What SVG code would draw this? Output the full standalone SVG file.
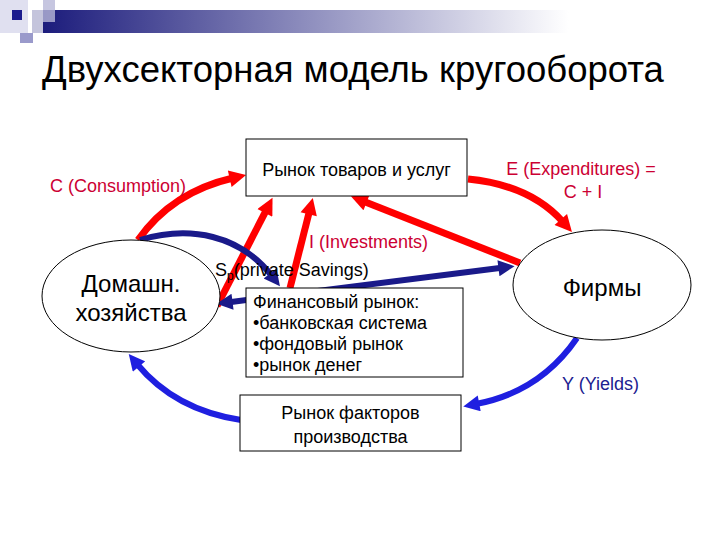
<svg xmlns="http://www.w3.org/2000/svg" width="720" height="540" viewBox="0 0 720 540">
<style>
.t{font-family:"Liberation Sans",Arial,sans-serif;fill:#000}
.lab{font-family:"Liberation Sans",Arial,sans-serif;font-size:18px}
.red{fill:#cc0033}
.box{fill:#fff;stroke:#000;stroke-width:1}
.ell{fill:#fff;stroke:#000;stroke-width:1}
.r{fill:none;stroke:#ff0000;stroke-width:7}
.n{fill:none;stroke:#1a1a8a;stroke-width:6}
.b{fill:none;stroke:#1f1fe0;stroke-width:6}
</style>
<defs>
<linearGradient id="bar" x1="0" y1="0" x2="1" y2="0">
<stop offset="0" stop-color="#1c1c7c"/>
<stop offset="0.8" stop-color="#ffffff"/>
<stop offset="1" stop-color="#ffffff"/>
</linearGradient>
<marker id="mr" viewBox="0 0 10 10" refX="2" refY="5" markerWidth="2.6" markerHeight="2.4" orient="auto-start-reverse" markerUnits="strokeWidth"><path d="M0,0L10,5L0,10z" fill="#ff0000"/></marker>
<marker id="mn" viewBox="0 0 10 10" refX="2" refY="5" markerWidth="3" markerHeight="2.7" orient="auto-start-reverse" markerUnits="strokeWidth"><path d="M0,0L10,5L0,10z" fill="#1a1a8a"/></marker>
<marker id="mb" viewBox="0 0 10 10" refX="2" refY="5" markerWidth="3" markerHeight="2.7" orient="auto-start-reverse" markerUnits="strokeWidth"><path d="M0,0L10,5L0,10z" fill="#1f1fe0"/></marker>
</defs>
<rect width="720" height="540" fill="#fff"/>
<g id="header">
<rect x="0" y="0" width="28" height="33" fill="#e0e0f0"/>
<rect x="43" y="10" width="657" height="23" fill="url(#bar)"/>
<rect x="32" y="10" width="11" height="23" fill="#c4c4dc"/>
<rect x="43" y="0" width="12" height="22" fill="#b8b8d8" opacity="0.8"/>
<rect x="12" y="10" width="10" height="10" fill="#1c1c8e"/>
<rect x="20" y="33" width="13" height="10" fill="#9a9acb"/>
</g>
<text class="t" x="42" y="82" font-size="36.5">Двухсекторная модель кругооборота</text>
<g id="connectors">
<path class="r" d="M138,240 Q172,192 233,178" marker-end="url(#mr)"/>
<path class="r" d="M217,306 L266.4,209.8" marker-end="url(#mr)"/>
<path class="r" d="M290,288 L309.5,211" marker-end="url(#mr)"/>
<path class="r" d="M520,263 L363.4,201.3" marker-end="url(#mr)"/>
<path class="r" d="M468,179 Q530,185 563,222" marker-end="url(#mr)"/>
<path class="n" d="M140,240 C190,225 240,235 272,276" marker-end="url(#mn)"/>
<path class="n" d="M229.3,302.2 L501.7,267.8" marker-start="url(#mn)" marker-end="url(#mn)"/>
<path class="b" d="M577,338 Q540,392 476,404" marker-end="url(#mb)"/>
<path class="b" d="M241,420 Q175,410 137,364" marker-end="url(#mb)"/>
</g>
<g id="goods">
<rect class="box" x="246" y="139" width="221" height="57"/>
<text class="t" x="356.5" y="176" font-size="18" text-anchor="middle">Рынок товаров и услуг</text>
</g>
<g id="finance">
<rect class="box" x="246" y="288" width="217" height="89"/>
<text class="t" x="253" y="308" font-size="18">Финансовый рынок:</text>
<text class="t" x="253" y="329" font-size="18">•банковская система</text>
<text class="t" x="253" y="350" font-size="18">•фондовый рынок</text>
<text class="t" x="253" y="371" font-size="18">•рынок денег</text>
</g>
<g id="factors">
<rect class="box" x="240" y="395" width="221" height="56"/>
<text class="t" x="350.5" y="419" font-size="18" text-anchor="middle">Рынок факторов</text>
<text class="t" x="350.5" y="443" font-size="18" text-anchor="middle">производства</text>
</g>
<g id="households">
<ellipse class="ell" cx="131" cy="296" rx="89" ry="56"/>
<text class="t" x="131" y="292" font-size="24" text-anchor="middle">Домашн.</text>
<text class="t" x="131" y="321" font-size="24" text-anchor="middle">хозяйства</text>
</g>
<g id="firms">
<ellipse class="ell" cx="602" cy="285" rx="89" ry="55"/>
<text class="t" x="602" y="296" font-size="24" text-anchor="middle">Фирмы</text>
</g>
<g id="labels">
<text class="lab red" x="50" y="192">C (Consumption)</text>
<text class="lab red" x="581" y="175" text-anchor="middle">E (Expenditures) =</text>
<text class="lab red" x="583" y="198" text-anchor="middle">C + I</text>
<text class="lab red" x="309" y="248">I (Investments)</text>
<text class="lab" x="215" y="276" fill="#000">S<tspan font-size="12" dy="4">p</tspan><tspan dy="-4">(private Savings)</tspan></text>
<text class="lab" x="562" y="390" fill="#202090">Y (Yields)</text>
</g>
</svg>
